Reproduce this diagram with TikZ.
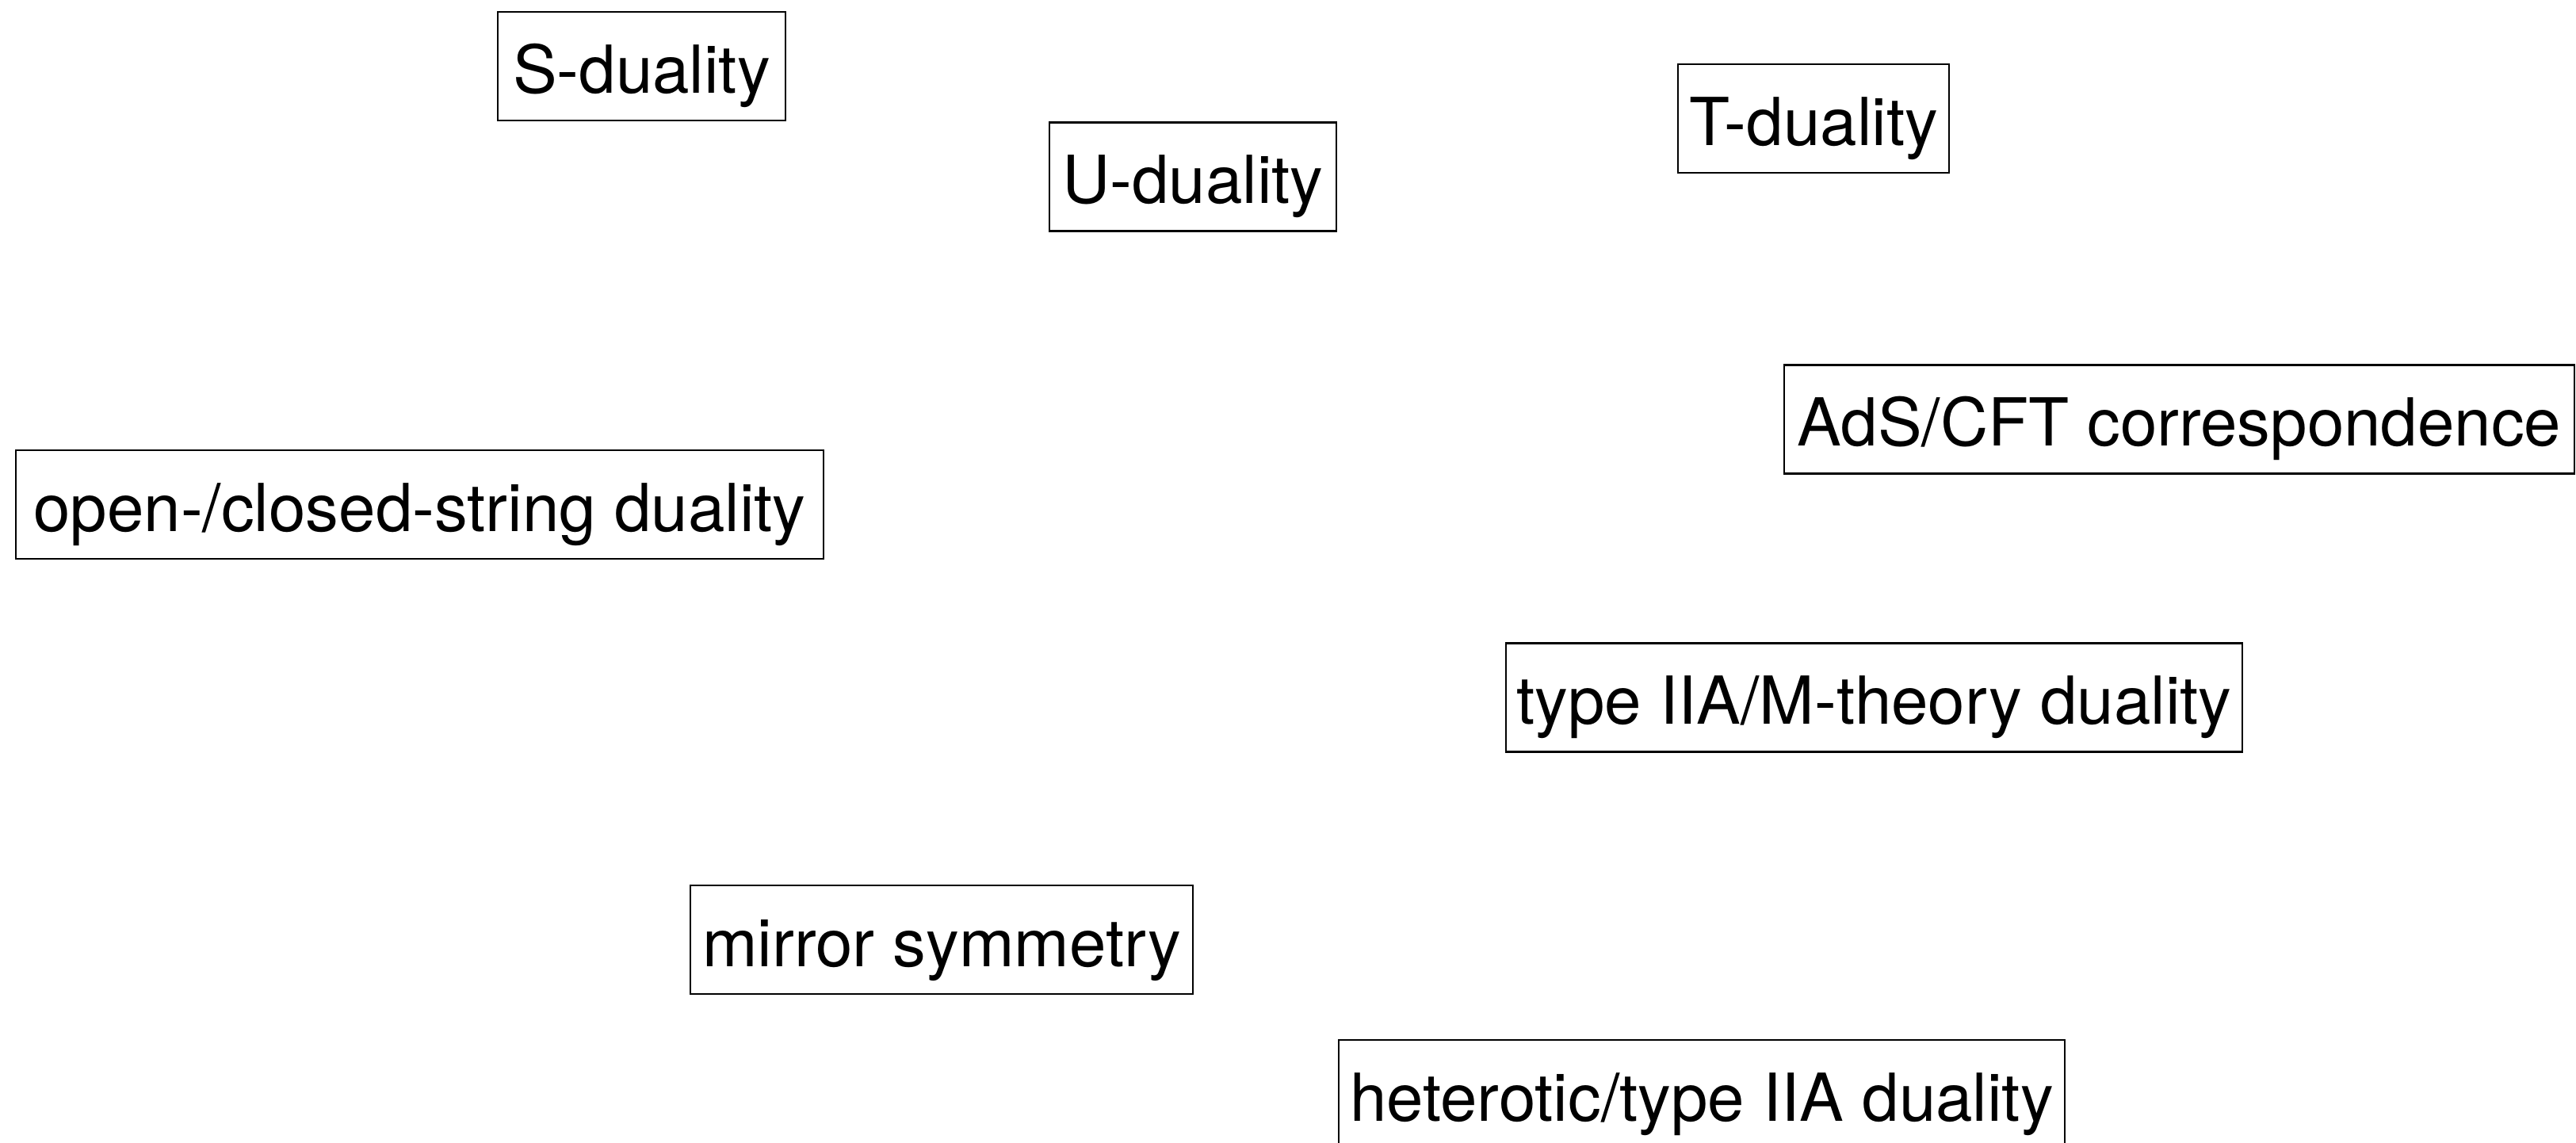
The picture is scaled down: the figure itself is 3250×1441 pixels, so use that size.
\documentclass[tikz,border=0pt]{standalone}
\usepackage{fontspec}
\setmainfont{TeX Gyre Heros}
\begin{document}
\begin{tikzpicture}[x=1pt,y=-1pt,
  dualbox/.style={draw=black, line width=2.6pt, inner sep=0pt,
    minimum height=137pt, text height=67pt, text depth=0pt,
    font=\fontsize{83.5}{100}\selectfont}]
  \useasboundingbox (0,0) rectangle (3250,1441);
  \node[dualbox, minimum width=363pt] (s)      at (809.5,83.5)   {S-duality};
  \node[dualbox, minimum width=362pt] (u)      at (1505,223)     {U-duality};
  \node[dualbox, minimum width=342pt] (t)      at (2288,149.5)   {T-duality};
  \node[dualbox, minimum width=997pt] (ads)    at (2749.5,529)   {AdS/CFT correspondence};
  \node[dualbox, minimum width=1019pt] (oc)    at (529.5,636.5)  {open-/closed-string duality};
  \node[dualbox, minimum width=929pt] (iiam)   at (2364.5,880)   {type IIA/M-theory duality};
  \node[dualbox, minimum width=634pt] (mirror) at (1188,1185.5)  {mirror symmetry};
  \node[dualbox, minimum width=916pt] (het)    at (2147,1380.5)  {heterotic/type IIA duality};
\end{tikzpicture}
\end{document}
